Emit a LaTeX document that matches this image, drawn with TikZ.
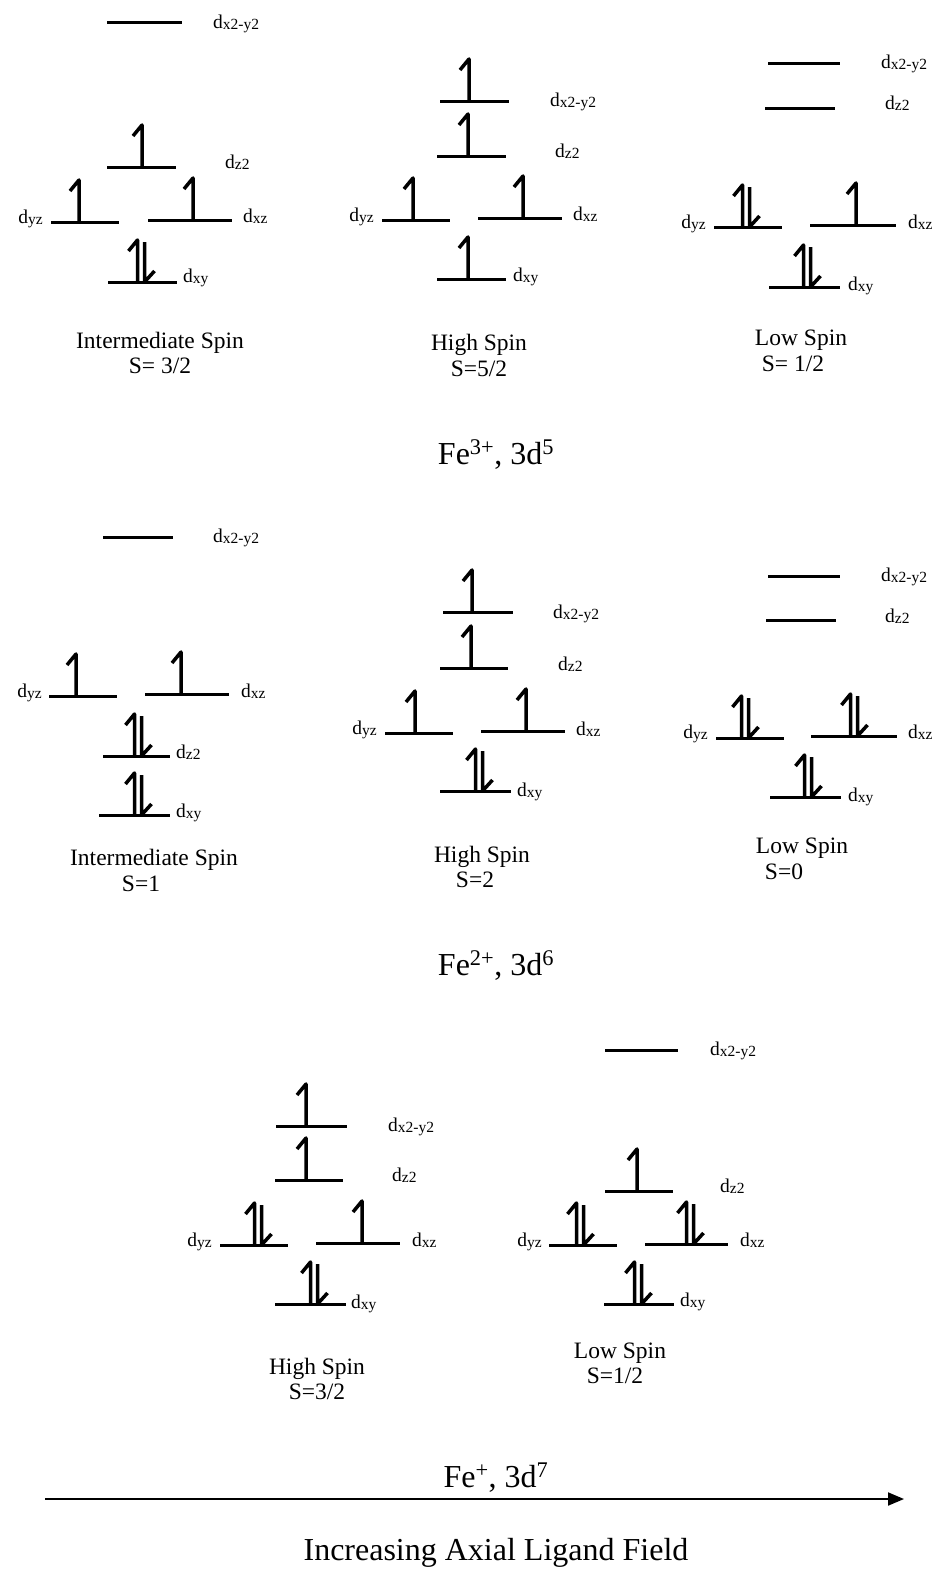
\documentclass[tikz,border=0pt]{standalone}
\usepackage{fontspec}
\setmainfont{Liberation Serif}
\usetikzlibrary{arrows.meta}
\usetikzlibrary{positioning}

% orbital label d with its subscript
\newcommand{\orb}[1]{{\fontsize{19.5}{19.5}\selectfont d}\raisebox{-0.35ex}{\fontsize{15.5}{15.5}\selectfont #1}}

\begin{document}
\begin{tikzpicture}[x=1pt, y=-1pt,
  level/.style={line width=3pt},
  spin/.style={line width=3.5pt, line join=round},
  orbital/.style={inner sep=0pt},
  caption/.style={font=\fontsize{23.5}{23.5}\selectfont, inner sep=0pt, anchor=base},
  title/.style={font=\fontsize{32}{32}\selectfont, inner sep=0pt, anchor=base}]

        \useasboundingbox (0,0) rectangle (941,1574);

        % Length of a spin arrow
        \def\spinlen{42}

        % Half distance between two paired spins
        \def\pairgap{3.5}

        % Energy levels: line from xa to xb at height y, label at (lx, ly)
        \foreach \xa/\xb/\y/\lx/\ly/\an/\s [count=\i] in {
            107/182/22/213/28/west/x2-y2, 107/176/167/225/168/west/z2,
            51/119/222/43/223/east/yz, 148/232/220/243/222/west/xz,
            108/177/282/183/282/west/xy,
            440/509/101/550/106/west/x2-y2, 437/506/156/555/157/west/z2,
            382/450/220/374/221/east/yz, 478/562/218/573/220/west/xz,
            437/506/279/513/281/west/xy,
            768/840/63/881/68/west/x2-y2, 765/835/108/885/109/west/z2,
            714/782/227/706/228/east/yz, 810/896/225/908/228/west/xz,
            769/840/287/848/290/west/xy,
            103/173/537/213/542/west/x2-y2, 49/117/696/42/697/east/yz,
            145/229/694/241/697/west/xz, 103/170/756/176/758/west/z2,
            99/170/815/176/817/west/xy,
            443/513/612/553/618/west/x2-y2, 440/508/668/558/670/west/z2,
            385/453/733/377/734/east/yz, 481/565/731/576/735/west/xz,
            440/511/791/517/796/west/xy,
            768/840/576/881/581/west/x2-y2, 766/836/620/885/622/west/z2,
            716/784/738/708/738/east/yz, 811/897/736/908/738/west/xz,
            770/841/797/848/801/west/xy,
            276/347/1126/388/1131/west/x2-y2, 275/343/1180/392/1181/west/z2,
            220/288/1245/212/1246/east/yz, 316/400/1243/412/1246/west/xz,
            275/346/1304/351/1308/west/xy,
            605/678/1050/710/1055/west/x2-y2, 605/673/1191/720/1192/west/z2,
            549/617/1245/542/1246/east/yz, 645/728/1244/740/1246/west/xz,
            604/674/1304/680/1306/west/xy} {
          \draw[level] (\xa,\y) -- (\xb,\y);
          \node[orbital, anchor=base \an] (lab\i) at (\lx,\ly) {\orb{\s}};
        }

        % Single (up) spins
        \foreach \x/\y in {142/167, 79/222, 193/220,
            469/101, 468/156, 413/220, 523/218, 468/279,
            856/225,
            76/696, 181/694,
            472/612, 471/668, 415/733, 526/731,
            306/1126, 306/1180, 362/1243,
            637/1191} {
          \draw[spin] (\x,\y) -- ++(0,-\spinlen) -- ++(-9,11);
        }

        % Paired spins (up and down)
        \foreach \x/\y in {141/282, 746/227, 807/287,
            138/756, 138/815, 479/791,
            745/738, 854/736, 808/797,
            258/1245, 314/1304,
            580/1245, 690/1244, 638/1304} {
          \draw[spin] (\x-\pairgap,\y) -- ++(0,-\spinlen) -- ++(-9,11);
          \draw[spin] (\x+\pairgap,\y-\spinlen+2) -- (\x+\pairgap,\y) -- ++(10,-11);
        }

        % Spin state captions
        \node[caption] (is3) at (160,348) {Intermediate Spin};
        \node[caption] (s3a) at (160,373) {S= 3/2};
        \node[caption] (hs3) at (479,350) {High Spin};
        \node[caption] (s3b) at (479,376) {S=5/2};
        \node[caption] (ls3) at (801,345) {Low Spin};
        \node[caption] (s3c) at (793,371) {S= 1/2};

        \node[caption] (is2) at (154,865) {Intermediate Spin};
        \node[caption] (s2a) at (141,891) {S=1};
        \node[caption] (hs2) at (482,862) {High Spin};
        \node[caption] (s2b) at (475,887) {S=2};
        \node[caption] (ls2) at (802,853) {Low Spin};
        \node[caption] (s2c) at (784,879) {S=0};

        \node[caption] (hs1) at (317,1374) {High Spin};
        \node[caption] (s1a) at (317,1399) {S=3/2};
        \node[caption] (ls1) at (620,1358) {Low Spin};
        \node[caption] (s1b) at (615,1383) {S=1/2};

        % Ion titles
        \node[title] (fe3) at (496,464) {Fe\textsuperscript{3+}, 3d\textsuperscript{5}};
        \node[title] (fe2) at (496,975) {Fe\textsuperscript{2+}, 3d\textsuperscript{6}};
        \node[title] (fe1) at (496,1487) {Fe\textsuperscript{+}, 3d\textsuperscript{7}};

        % Ligand field axis
        \coordinate (axstart) at (45,1499);
        \coordinate (axend) at (904,1499);
        \draw[line width=2pt, -{Triangle[length=16pt,width=13pt]}] (axstart) -- (axend);
        \node[title] (field) at (496,1560) {Increasing Axial Ligand Field};

      \end{tikzpicture}
\end{document}
